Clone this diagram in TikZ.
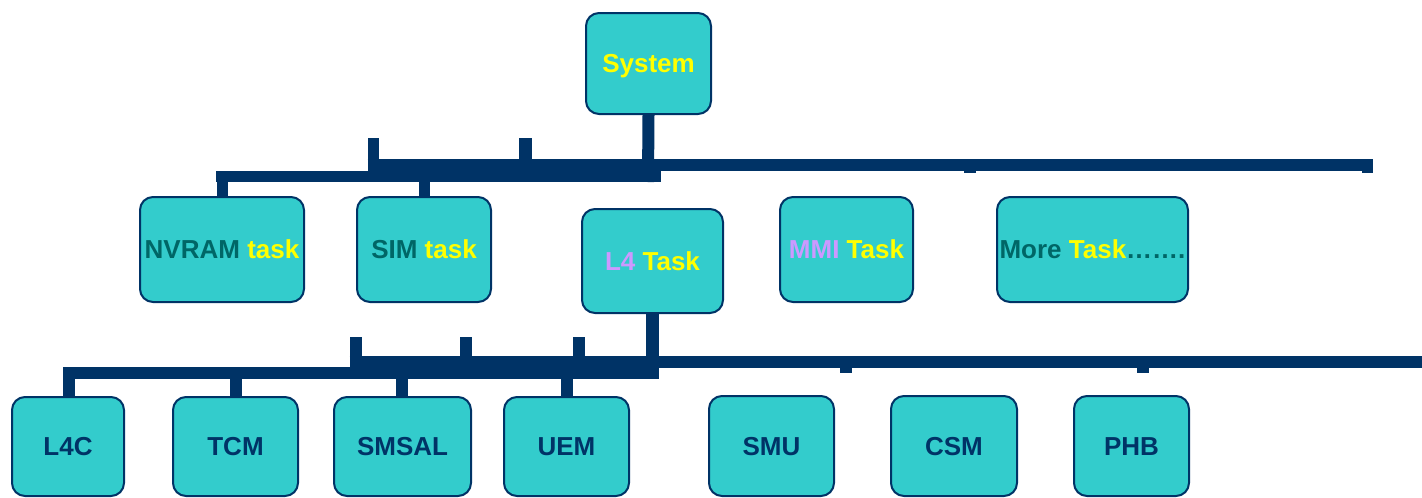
\documentclass[tikz,border=0pt]{standalone}
\usepackage{fontspec}
\setmainfont{Liberation Sans}
\definecolor{navy}{HTML}{003366}
\definecolor{teal1}{HTML}{33CCCC}
\definecolor{dteal}{HTML}{006666}
\definecolor{lav}{HTML}{CC99FF}
\definecolor{yel}{HTML}{FFFF00}
\tikzset{
  box/.style={draw=navy, line width=2pt, fill=teal1, rounded corners=13pt, inner sep=0pt,
    font=\fontsize{26}{28}\selectfont\bfseries, text=navy, text height=18.6pt, text depth=0pt},
  bus/.style={draw=navy, line width=12pt, line cap=butt},
}
\newcommand{\boxat}[6]{% name, x1,y1,x2,y2, text
  \node[box, minimum width={(#4-#2-2)*1pt}, minimum height={(#5-#3-2)*1pt}] (#1) at ({(#2+#4)/2},{(#3+#5)/2}) {#6};}
\begin{document}
\begin{tikzpicture}[x=1pt,y=-1pt]
\useasboundingbox (0,0) rectangle (1422,498);
% ---------- boxes ----------
\boxat{sys}{585}{12}{712}{115}{\textcolor{yel}{System}}
\boxat{nvram}{139}{196}{305}{303}{\textcolor{dteal}{NVRAM} \textcolor{yel}{task}}
\boxat{sim}{356}{196}{492}{303}{\textcolor{dteal}{SIM} \textcolor{yel}{task}}
\boxat{lfour}{581}{208}{724}{314}{\textcolor{lav}{L4} \textcolor{yel}{Task}}
\boxat{mmi}{779}{196}{914}{303}{\textcolor{lav}{MMI} \textcolor{yel}{Task}}
\boxat{more}{996}{196}{1189}{303}{\makebox[0pt][c]{\textcolor{dteal}{More} \textcolor{yel}{Task}\textcolor{dteal}{…….}}}
\boxat{lfc}{11}{396}{125}{497}{L4C}
\boxat{tcm}{172}{396}{299}{497}{TCM}
\boxat{smsal}{333}{396}{472}{497}{SMSAL}
\boxat{uem}{503}{396}{630}{497}{UEM}
\boxat{smu}{708}{395}{835}{497}{SMU}
\boxat{csm}{890}{395}{1018}{497}{CSM}
\boxat{phb}{1073}{395}{1190}{497}{PHB}
% ---------- level 1 bus ----------
\coordinate (b1r) at (1373,165);
\coordinate (b1l) at (367.5,165);
\draw[bus] (b1l) -- (b1r);
\draw[bus, line width=11pt] (216,176.5) -- (661,176.5);
\draw[bus] (sys.south) -- (648,182);
\draw[bus, line width=11pt] (nvram.north -| 222,0) -- (222,171);
\draw[bus, line width=11pt] (sim.north -| 424,0) -- (424,176);
\draw[bus, line width=11.5pt] (373.25,138) -- (373.25,171);
\draw[bus, line width=13pt] (525.5,138) -- (525.5,165);
\draw[bus] (970,165) -- (970,173);
\draw[bus, line width=11pt] (1367.5,165) -- (1367.5,173);
% ---------- level 2 bus ----------
\draw[bus] (349.6,362) -- (1422,362);
\draw[bus] (63.4,373) -- (659,373);
\draw[bus, line width=13pt] (lfour.south) -- (652.5,379);
\draw[bus] (lfc.north -| 69,0) -- (69,367);
\draw[bus] (tcm.north -| 236,0) -- (236,373);
\draw[bus] (smsal.north -| 402,0) -- (402,373);
\draw[bus] (uem.north -| 566.5,0) -- (566.5,373);
\draw[bus] (355.6,337) -- (355.6,362);
\draw[bus] (465.6,337) -- (465.6,362);
\draw[bus] (579,337) -- (579,362);
\draw[bus] (845.5,362) -- (845.5,372.7);
\draw[bus] (1142.5,362) -- (1142.5,372.7);
\end{tikzpicture}
\end{document}
